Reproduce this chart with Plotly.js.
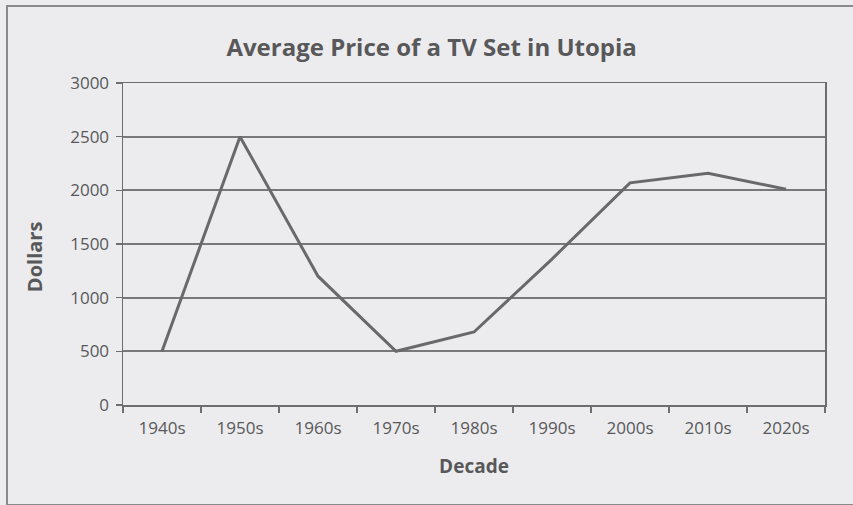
<!DOCTYPE html>
<html>
<head>
<meta charset="utf-8">
<script src="https://cdn.plot.ly/plotly-3.0.1.min.js"></script>
<style>
  html, body { margin: 0; padding: 0; background: #ececee; }
  #wrap { position: relative; width: 853px; height: 505px; }
  #chart { width: 853px; height: 505px; }
  #frame { position: absolute; left: 6px; top: 5px; width: 860px; height: 497px;
           border-left: 2px solid #8a8a8c; border-top: 2px solid #8a8a8c; border-bottom: 2px solid #8a8a8c;
           pointer-events: none; }
</style>
</head>
<body>
<div id="wrap">
  <div id="chart"></div>
  <div id="frame"></div>
</div>
<script>
const decades = ["1940s", "1950s", "1960s", "1970s", "1980s", "1990s", "2000s", "2010s", "2020s"];
const prices = [500, 2500, 1200, 500, 680, 1360, 2070, 2160, 2010];
const yTicks = [0, 500, 1000, 1500, 2000, 2500, 3000];

const fontFam = "Open Sans, Noto Sans, sans-serif";
const textColor = "#58585a";
const lineColor = "#6e6e70";

const trace = {
  x: decades,
  y: prices,
  type: "scatter",
  mode: "lines",
  line: { color: "#69696b", width: 3 },
  hoverinfo: "x+y"
};

const layout = {
  width: 853,
  height: 505,
  paper_bgcolor: "#ececee",
  plot_bgcolor: "#ececee",
  margin: { l: 123, r: 28, t: 83, b: 100 },
  showlegend: false,
  title: {
    text: "<b>Average Price of a TV Set in Utopia</b>",
    font: { family: fontFam, size: 24, color: textColor },
    x: 0.506, xref: "container", xanchor: "center",
    y: 0.905, yanchor: "middle"
  },
  xaxis: {
    type: "category",
    range: [-0.5, 8.5],
    tickson: "boundaries",
    ticks: "outside",
    ticklen: 6,
    tickwidth: 1.5,
    tickcolor: lineColor,
    showline: true,
    linecolor: lineColor,
    linewidth: 1.5,
    mirror: true,
    showgrid: false,
    zeroline: false,
    ticklabelstandoff: 7,
    tickfont: { family: fontFam, size: 17, color: textColor },
    title: { text: "<b>Decade</b>", font: { family: fontFam, size: 19, color: textColor }, standoff: 22 }
  },
  yaxis: {
    range: [0, 3000],
    tickvals: yTicks,
    ticktext: yTicks.map(String),
    ticks: "outside",
    ticklen: 6,
    tickwidth: 1.5,
    tickcolor: lineColor,
    showline: true,
    linecolor: lineColor,
    linewidth: 1.5,
    mirror: true,
    showgrid: true,
    gridcolor: "#78787a",
    gridwidth: 1.8,
    zeroline: false,
    ticklabelstandoff: 3,
    tickfont: { family: fontFam, size: 17, color: textColor }
  },
  annotations: [{
    text: "<b>Dollars</b>",
    xref: "paper", yref: "paper",
    x: -0.125, y: 0.46,
    xanchor: "center", yanchor: "middle",
    textangle: -90,
    showarrow: false,
    font: { family: fontFam, size: 20, color: textColor }
  }]
};

Plotly.newPlot("chart", [trace], layout, { displayModeBar: false, staticPlot: true });
</script>
</body>
</html>
